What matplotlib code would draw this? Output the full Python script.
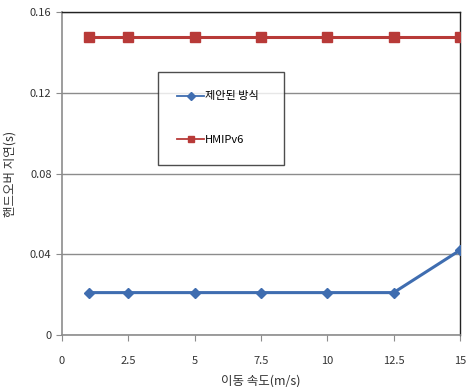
import matplotlib
matplotlib.use("Agg")
import matplotlib.pyplot as plt
from matplotlib.lines import Line2D

plt.rcParams['font.family'] = ['Noto Sans CJK KR', 'DejaVu Sans']

speed = [1, 2.5, 5, 7.5, 10, 12.5, 15]
proposed = [0.021, 0.021, 0.021, 0.021, 0.021, 0.021, 0.042]
hmipv6 = [0.1475, 0.1475, 0.1475, 0.1475, 0.1475, 0.1475, 0.1475]
xticks = [0, 2.5, 5, 7.5, 10, 12.5, 15]
xticklabels = ['0', '2.5', '5', '7.5', '10', '12.5', '15']
yticks = [0, 0.04, 0.08, 0.12, 0.16]
yticklabels = ['0', '0.04', '0.08', '0.12', '0.16']
labels = ['제안된 방식', 'HMIPv6']

blue = '#3F6DB0'
red = '#B83A38'

fig = plt.figure(figsize=(4.68, 3.87), dpi=100)
ax = fig.add_axes([62/468, 1-335/387, (460-62)/468, (335-12)/387])

ax.plot(speed, proposed, color=blue, lw=2.2, marker='D', ms=5, zorder=3)
ax.plot(speed, hmipv6, color=red, lw=2.2, marker='s', ms=7, zorder=3)

ax.set_xlim(0, 15)
ax.set_ylim(0, 0.16)
ax.set_xticks(xticks)
ax.set_xticklabels(xticklabels)
ax.set_yticks(yticks)
ax.set_yticklabels(yticklabels)
ax.yaxis.grid(True, color='#8C8C8C', lw=1)
ax.set_axisbelow(True)
ax.tick_params(axis='both', labelsize=8, colors='#333333', length=4,
               color='#8C8C8C', direction='out')
ax.tick_params(axis='x', pad=11)
for s in ['left', 'bottom']:
    ax.spines[s].set_color('#8C8C8C')
    ax.spines[s].set_linewidth(1.2)
for s in ['top', 'right']:
    ax.spines[s].set_color('#222222')
    ax.spines[s].set_linewidth(1)

ax.set_xlabel('이동 속도(m/s)', fontsize=9, color='#333333', labelpad=6)
ax.set_ylabel('핸드오버 지연(s)', fontsize=9, color='#333333', labelpad=10)

handles = [Line2D([], [], color=blue, lw=1.3, marker='D', ms=4),
           Line2D([], [], color=red, lw=1.3, marker='s', ms=5)]
leg = ax.legend(handles, labels, loc='upper left',
                bbox_to_anchor=((158-62)/398, (335-159)/323, 126/398, 87/323),
                mode='expand', fontsize=8, frameon=True, fancybox=False,
                borderpad=1.75, labelspacing=3.05, handlelength=2.4,
                handletextpad=0.1, borderaxespad=0)
leg.get_frame().set_edgecolor('#222222')
leg.get_frame().set_linewidth(1)

fig.savefig('out.png', dpi=100)
